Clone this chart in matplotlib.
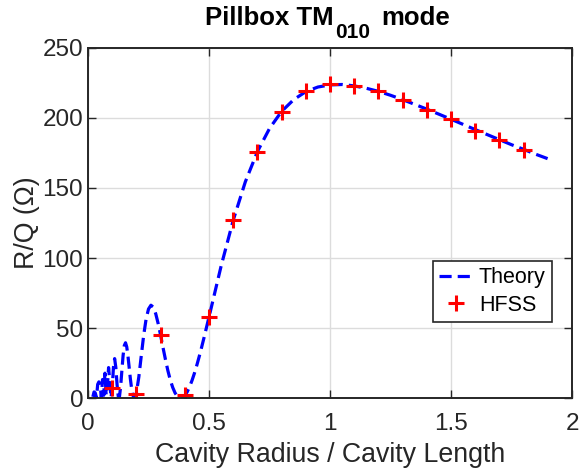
import matplotlib
matplotlib.use('Agg')
import matplotlib.pyplot as plt

plt.rcParams['font.family'] = ['Liberation Sans', 'DejaVu Sans']

# theory curve
theory_x = [0.020, 0.025, 0.030, 0.035, 0.040, 0.045, 0.050, 0.055, 0.060, 0.065,
            0.070, 0.075, 0.080, 0.085, 0.090, 0.095, 0.100, 0.105, 0.110, 0.115,
            0.120, 0.125, 0.130, 0.135, 0.140, 0.145, 0.150, 0.155, 0.160, 0.165,
            0.170, 0.175, 0.180, 0.185, 0.190, 0.195, 0.20, 0.21, 0.22, 0.23,
            0.24, 0.25, 0.26, 0.27, 0.28, 0.29, 0.30, 0.31, 0.32, 0.33,
            0.34, 0.35, 0.36, 0.37, 0.38, 0.39, 0.40, 0.41, 0.42, 0.43,
            0.44, 0.45, 0.46, 0.47, 0.48, 0.49, 0.50, 0.55, 0.60, 0.65,
            0.70, 0.75, 0.80, 0.85, 0.90, 0.95, 1.00, 1.05, 1.10, 1.15,
            1.20, 1.25, 1.30, 1.35, 1.40, 1.45, 1.50, 1.55, 1.60, 1.65,
            1.70, 1.75, 1.80, 1.85, 1.90]
theory_rq = [0.9, 4.4, 3.7, 0.4, 9.8, 11.6, 10.1, 0.2, 13.3, 2.0,
             17.8, 2.0, 8.1, 21.8, 11.8, 0.2, 6.8, 21.8, 28.2, 21.8,
             9.7, 1.2, 1.0, 8.5, 19.8, 30.5, 37.5, 39.5, 36.6, 30.2,
             22.0, 13.8, 6.9, 2.2, 0.1, 0.7, 3.7, 15.1, 30.1, 44.8,
             56.4, 63.6, 66.3, 64.9, 60.1, 53.1, 44.8, 36.0, 27.5, 19.6,
             12.9, 7.6, 3.6, 1.1, 0.1, 0.3, 1.9, 4.5, 8.2, 12.7,
             17.9, 23.7, 30.0, 36.7, 43.6, 50.8, 57.9, 94.3, 127.0, 154.4,
             176.0, 192.5, 204.7, 213.1, 218.8, 222.1, 223.6, 223.9, 222.9, 221.2,
             219.0, 216.2, 213.1, 209.7, 206.3, 202.7, 199.1, 195.4, 191.7, 188.1,
             184.5, 180.9, 177.6, 174.1, 170.9]

# HFSS simulation points
hfss_x = [0.1, 0.2, 0.3, 0.4, 0.5, 0.6, 0.7, 0.8, 0.9, 1.0,
          1.1, 1.2, 1.3, 1.4, 1.5, 1.6, 1.7, 1.8]
hfss_rq = [7, 3, 45, 2, 58, 127, 176, 204, 219, 224,
           223, 219, 213, 206, 199, 191, 184, 177]

dark = '#262626'

fig = plt.figure(figsize=(5.79, 4.70), dpi=100)
ax = fig.add_axes([0.152, 0.153, 0.836, 0.745])

ax.plot(theory_x, theory_rq, color='#0000ff', lw=2.3, dashes=(3.8, 1.9), label='Theory')
ax.plot(hfss_x, hfss_rq, '+', color='#ff0000', ms=12, mew=2.2, ls='none', label='HFSS')

ax.set_xlim(0, 2)
ax.set_ylim(0, 250)
ax.set_xticks([0, 0.5, 1, 1.5, 2])
ax.set_xticklabels(['0', '0.5', '1', '1.5', '2'])
ax.set_yticks([0, 50, 100, 150, 200, 250])
ax.grid(True, color='#dcdcdc', lw=1.0)
ax.set_axisbelow(True)
ax.tick_params(direction='in', top=True, right=True, labelsize=17.5,
               length=6, width=1.0, colors=dark)
ax.tick_params(axis='x', pad=11)
for s in ax.spines.values():
    s.set_linewidth(1.4)
    s.set_color(dark)

ax.set_xlabel('Cavity Radius / Cavity Length', fontsize=19.25, color=dark, labelpad=5)
ax.set_ylabel('R/Q (Ω)', fontsize=19.25, color=dark, labelpad=2)

# title with a large, lowered subscript
t1 = fig.text(205 / 579, 1 - 30 / 470, 'Pillbox TM', fontsize=18.5,
              fontweight='bold', ha='left', va='bottom')
t2 = ax.annotate('010', xy=(1, 0), xycoords=t1, xytext=(1, -12),
                 textcoords='offset pixels', fontsize=15, fontweight='bold',
                 ha='left', va='bottom', annotation_clip=False)
t3 = ax.annotate('mode', xy=(1, 0), xycoords=(t2, t1), xytext=(12, 0),
                 textcoords='offset pixels', fontsize=18.5, fontweight='bold',
                 ha='left', va='bottom', annotation_clip=False)

leg = ax.legend(loc='lower right', bbox_to_anchor=(0.959, 0.217), borderaxespad=0,
                fontsize=15.5, fancybox=False, framealpha=1, edgecolor=dark,
                handlelength=1.6, handletextpad=0.25, borderpad=0.3, labelspacing=0.3)
leg.get_frame().set_linewidth(1.2)

fig.savefig('out.png', dpi=100)
